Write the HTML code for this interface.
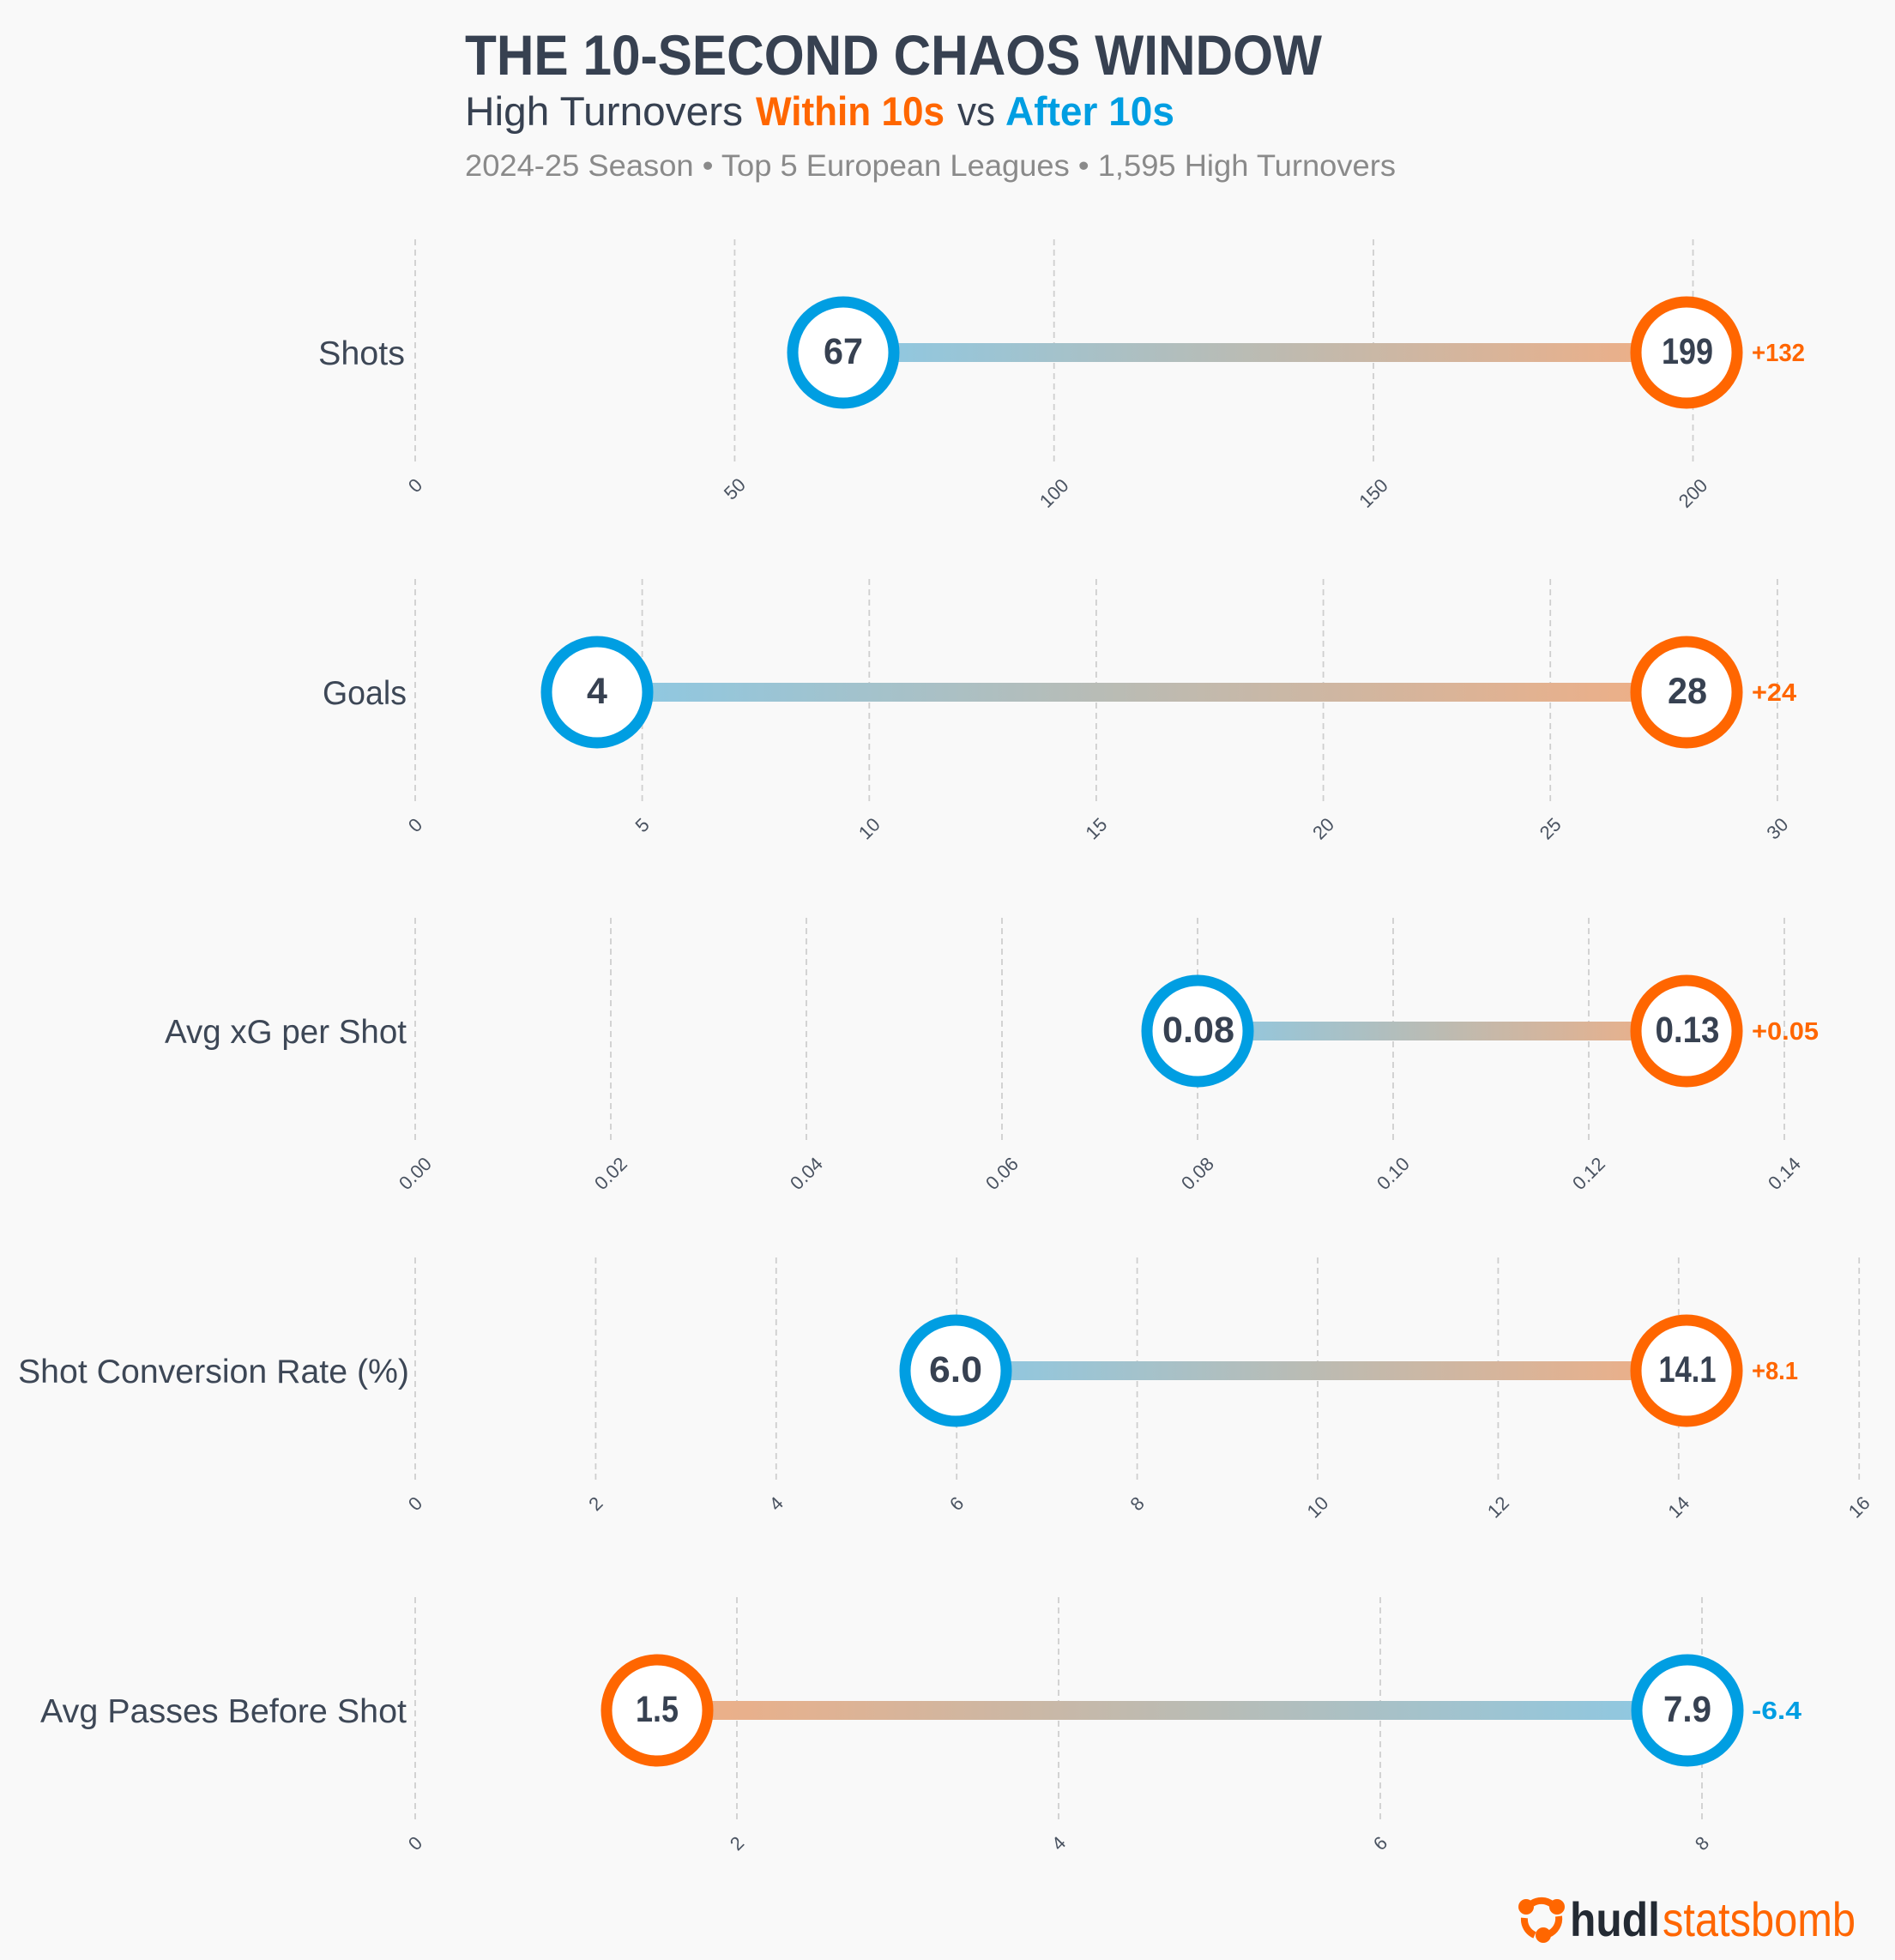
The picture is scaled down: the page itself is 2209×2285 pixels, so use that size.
<!DOCTYPE html>
<html>
<head>
<meta charset="utf-8">
<style>
  html,body{margin:0;padding:0;background:#f9f9f9;}
  svg{display:block;}
  text{font-family:"Liberation Sans", sans-serif;}
</style>
</head>
<body>
<svg width="2209" height="2285" viewBox="0 0 2209 2285" xmlns="http://www.w3.org/2000/svg">
  <defs>
    <linearGradient id="gBO" x1="0" y1="0" x2="1" y2="0">
      <stop offset="0" stop-color="#8bc9e5"/>
      <stop offset="0.5" stop-color="#bcbbb2"/>
      <stop offset="1" stop-color="#f1ae84"/>
    </linearGradient>
    <linearGradient id="gOB" x1="0" y1="0" x2="1" y2="0">
      <stop offset="0" stop-color="#f1ae84"/>
      <stop offset="0.5" stop-color="#bcbbb2"/>
      <stop offset="1" stop-color="#8bc9e5"/>
    </linearGradient>
  </defs>
  <rect x="0" y="0" width="2209" height="2285" fill="#f9f9f9"/>

  <!-- Titles -->
  <text x="542" y="87" font-size="66" font-weight="bold" fill="#374151" textLength="999" lengthAdjust="spacingAndGlyphs">THE 10-SECOND CHAOS WINDOW</text>
  <text x="542" y="146" font-size="47" fill="#374151" textLength="324" lengthAdjust="spacingAndGlyphs">High Turnovers</text>
  <text x="881" y="146" font-size="47" font-weight="bold" fill="#ff6600" textLength="220" lengthAdjust="spacingAndGlyphs">Within 10s</text>
  <text x="1116" y="146" font-size="47" fill="#374151" textLength="44" lengthAdjust="spacingAndGlyphs">vs</text>
  <text x="1172" y="146" font-size="47" font-weight="bold" fill="#009ee2" textLength="197" lengthAdjust="spacingAndGlyphs">After 10s</text>
  <text x="542" y="205" font-size="35" fill="#8a8a8a" textLength="1085" lengthAdjust="spacingAndGlyphs">2024-25 Season • Top 5 European Leagues • 1,595 High Turnovers</text>

  <!-- ============ Panel 1: Shots (cy=411) ============ -->
  <g stroke="#cfcfcf" stroke-width="1.8" stroke-dasharray="7,5">
    <line x1="484" y1="279" x2="484" y2="543"/>
    <line x1="856.4" y1="279" x2="856.4" y2="543"/>
    <line x1="1228.7" y1="279" x2="1228.7" y2="543"/>
    <line x1="1601" y1="279" x2="1601" y2="543"/>
    <line x1="1973.5" y1="279" x2="1973.5" y2="543"/>
  </g>
  <g font-size="22" fill="#4a5361" text-anchor="middle" dominant-baseline="central">
    <text transform="translate(484,566) rotate(-45)">0</text>
    <text transform="translate(856.4,570) rotate(-45)">50</text>
    <text transform="translate(1228.7,575) rotate(-45)">100</text>
    <text transform="translate(1601,575) rotate(-45)">150</text>
    <text transform="translate(1973.5,575) rotate(-45)">200</text>
  </g>
  <text x="371" y="425" font-size="39" fill="#3d4756" textLength="101" lengthAdjust="spacingAndGlyphs">Shots</text>
  <rect x="983" y="400" width="983" height="22" fill="url(#gBO)"/>
  <circle cx="983" cy="411" r="59" fill="#ffffff" stroke="#009ee2" stroke-width="13"/>
  <circle cx="1966" cy="411" r="59" fill="#ffffff" stroke="#ff6600" stroke-width="13"/>
  <text x="983" y="424" font-size="43" font-weight="bold" fill="#374151" text-anchor="middle" textLength="46" lengthAdjust="spacingAndGlyphs">67</text>
  <text x="1967" y="424" font-size="43" font-weight="bold" fill="#374151" text-anchor="middle" textLength="60" lengthAdjust="spacingAndGlyphs">199</text>
  <text x="2042" y="421" font-size="29" font-weight="bold" fill="#ff6600" textLength="62" lengthAdjust="spacingAndGlyphs">+132</text>

  <!-- ============ Panel 2: Goals (cy=807) ============ -->
  <g stroke="#cfcfcf" stroke-width="1.8" stroke-dasharray="7,5">
    <line x1="484" y1="675" x2="484" y2="939"/>
    <line x1="748.6" y1="675" x2="748.6" y2="939"/>
    <line x1="1013.3" y1="675" x2="1013.3" y2="939"/>
    <line x1="1277.9" y1="675" x2="1277.9" y2="939"/>
    <line x1="1542.6" y1="675" x2="1542.6" y2="939"/>
    <line x1="1807.2" y1="675" x2="1807.2" y2="939"/>
    <line x1="2071.9" y1="675" x2="2071.9" y2="939"/>
  </g>
  <g font-size="22" fill="#4a5361" text-anchor="middle" dominant-baseline="central">
    <text transform="translate(484,962) rotate(-45)">0</text>
    <text transform="translate(748.6,962) rotate(-45)">5</text>
    <text transform="translate(1013.3,966) rotate(-45)">10</text>
    <text transform="translate(1277.9,966) rotate(-45)">15</text>
    <text transform="translate(1542.6,966) rotate(-45)">20</text>
    <text transform="translate(1807.2,966) rotate(-45)">25</text>
    <text transform="translate(2071.9,966) rotate(-45)">30</text>
  </g>
  <text x="376" y="821" font-size="39" fill="#3d4756" textLength="98" lengthAdjust="spacingAndGlyphs">Goals</text>
  <rect x="696" y="796" width="1270" height="22" fill="url(#gBO)"/>
  <circle cx="696" cy="807" r="59" fill="#ffffff" stroke="#009ee2" stroke-width="13"/>
  <circle cx="1966" cy="807" r="59" fill="#ffffff" stroke="#ff6600" stroke-width="13"/>
  <text x="696" y="820" font-size="43" font-weight="bold" fill="#374151" text-anchor="middle">4</text>
  <text x="1967" y="820" font-size="43" font-weight="bold" fill="#374151" text-anchor="middle" textLength="46" lengthAdjust="spacingAndGlyphs">28</text>
  <text x="2042" y="817" font-size="29" font-weight="bold" fill="#ff6600" textLength="52" lengthAdjust="spacingAndGlyphs">+24</text>

  <!-- ============ Panel 3: Avg xG per Shot (cy=1202) ============ -->
  <g stroke="#cfcfcf" stroke-width="1.8" stroke-dasharray="7,5">
    <line x1="484" y1="1070" x2="484" y2="1334"/>
    <line x1="712" y1="1070" x2="712" y2="1334"/>
    <line x1="940" y1="1070" x2="940" y2="1334"/>
    <line x1="1168" y1="1070" x2="1168" y2="1334"/>
    <line x1="1396" y1="1070" x2="1396" y2="1334"/>
    <line x1="1624" y1="1070" x2="1624" y2="1334"/>
    <line x1="1852" y1="1070" x2="1852" y2="1334"/>
    <line x1="2080" y1="1070" x2="2080" y2="1334"/>
  </g>
  <g font-size="22" fill="#4a5361" text-anchor="middle" dominant-baseline="central">
    <text transform="translate(484,1368) rotate(-45)">0.00</text>
    <text transform="translate(712,1368) rotate(-45)">0.02</text>
    <text transform="translate(940,1368) rotate(-45)">0.04</text>
    <text transform="translate(1168,1368) rotate(-45)">0.06</text>
    <text transform="translate(1396,1368) rotate(-45)">0.08</text>
    <text transform="translate(1624,1368) rotate(-45)">0.10</text>
    <text transform="translate(1852,1368) rotate(-45)">0.12</text>
    <text transform="translate(2080,1368) rotate(-45)">0.14</text>
  </g>
  <text x="192" y="1216" font-size="39" fill="#3d4756" textLength="282" lengthAdjust="spacingAndGlyphs">Avg xG per Shot</text>
  <rect x="1396" y="1191" width="570" height="22" fill="url(#gBO)"/>
  <circle cx="1396" cy="1202" r="59" fill="#ffffff" stroke="#009ee2" stroke-width="13"/>
  <circle cx="1966" cy="1202" r="59" fill="#ffffff" stroke="#ff6600" stroke-width="13"/>
  <text x="1397" y="1215" font-size="43" font-weight="bold" fill="#374151" text-anchor="middle" textLength="84" lengthAdjust="spacingAndGlyphs">0.08</text>
  <text x="1967" y="1215" font-size="43" font-weight="bold" fill="#374151" text-anchor="middle" textLength="75" lengthAdjust="spacingAndGlyphs">0.13</text>
  <text x="2042" y="1212" font-size="29" font-weight="bold" fill="#ff6600" textLength="78" lengthAdjust="spacingAndGlyphs">+0.05</text>

  <!-- ============ Panel 4: Shot Conversion Rate (cy=1598) ============ -->
  <g stroke="#cfcfcf" stroke-width="1.8" stroke-dasharray="7,5">
    <line x1="484" y1="1466" x2="484" y2="1730"/>
    <line x1="694.4" y1="1466" x2="694.4" y2="1730"/>
    <line x1="904.8" y1="1466" x2="904.8" y2="1730"/>
    <line x1="1115.2" y1="1466" x2="1115.2" y2="1730"/>
    <line x1="1325.6" y1="1466" x2="1325.6" y2="1730"/>
    <line x1="1536" y1="1466" x2="1536" y2="1730"/>
    <line x1="1746.4" y1="1466" x2="1746.4" y2="1730"/>
    <line x1="1956.8" y1="1466" x2="1956.8" y2="1730"/>
    <line x1="2167.2" y1="1466" x2="2167.2" y2="1730"/>
  </g>
  <g font-size="22" fill="#4a5361" text-anchor="middle" dominant-baseline="central">
    <text transform="translate(484,1753) rotate(-45)">0</text>
    <text transform="translate(694.4,1753) rotate(-45)">2</text>
    <text transform="translate(904.8,1753) rotate(-45)">4</text>
    <text transform="translate(1115.2,1753) rotate(-45)">6</text>
    <text transform="translate(1325.6,1753) rotate(-45)">8</text>
    <text transform="translate(1536,1757) rotate(-45)">10</text>
    <text transform="translate(1746.4,1757) rotate(-45)">12</text>
    <text transform="translate(1956.8,1757) rotate(-45)">14</text>
    <text transform="translate(2167.2,1757) rotate(-45)">16</text>
  </g>
  <text x="21" y="1612" font-size="39" fill="#3d4756" textLength="456" lengthAdjust="spacingAndGlyphs">Shot Conversion Rate (%)</text>
  <rect x="1114" y="1587" width="852" height="22" fill="url(#gBO)"/>
  <circle cx="1114" cy="1598" r="59" fill="#ffffff" stroke="#009ee2" stroke-width="13"/>
  <circle cx="1966" cy="1598" r="59" fill="#ffffff" stroke="#ff6600" stroke-width="13"/>
  <text x="1114" y="1611" font-size="43" font-weight="bold" fill="#374151" text-anchor="middle" textLength="62" lengthAdjust="spacingAndGlyphs">6.0</text>
  <text x="1967" y="1611" font-size="43" font-weight="bold" fill="#374151" text-anchor="middle" textLength="67" lengthAdjust="spacingAndGlyphs">14.1</text>
  <text x="2042" y="1608" font-size="29" font-weight="bold" fill="#ff6600" textLength="54" lengthAdjust="spacingAndGlyphs">+8.1</text>

  <!-- ============ Panel 5: Avg Passes Before Shot (cy=1994) ============ -->
  <g stroke="#cfcfcf" stroke-width="1.8" stroke-dasharray="7,5">
    <line x1="484" y1="1862" x2="484" y2="2126"/>
    <line x1="859" y1="1862" x2="859" y2="2126"/>
    <line x1="1234" y1="1862" x2="1234" y2="2126"/>
    <line x1="1609" y1="1862" x2="1609" y2="2126"/>
    <line x1="1984" y1="1862" x2="1984" y2="2126"/>
  </g>
  <g font-size="22" fill="#4a5361" text-anchor="middle" dominant-baseline="central">
    <text transform="translate(484,2149) rotate(-45)">0</text>
    <text transform="translate(859,2149) rotate(-45)">2</text>
    <text transform="translate(1234,2149) rotate(-45)">4</text>
    <text transform="translate(1609,2149) rotate(-45)">6</text>
    <text transform="translate(1984,2149) rotate(-45)">8</text>
  </g>
  <text x="47" y="2008" font-size="39" fill="#3d4756" textLength="427" lengthAdjust="spacingAndGlyphs">Avg Passes Before Shot</text>
  <rect x="766" y="1983" width="1201" height="22" fill="url(#gOB)"/>
  <circle cx="766" cy="1994" r="59" fill="#ffffff" stroke="#ff6600" stroke-width="13"/>
  <circle cx="1967" cy="1994" r="59" fill="#ffffff" stroke="#009ee2" stroke-width="13"/>
  <text x="766" y="2007" font-size="43" font-weight="bold" fill="#374151" text-anchor="middle" textLength="50" lengthAdjust="spacingAndGlyphs">1.5</text>
  <text x="1967" y="2007" font-size="43" font-weight="bold" fill="#374151" text-anchor="middle" textLength="56" lengthAdjust="spacingAndGlyphs">7.9</text>
  <text x="2042" y="2004" font-size="29" font-weight="bold" fill="#009ee2" textLength="58" lengthAdjust="spacingAndGlyphs">-6.4</text>

  <!-- ============ Logo ============ -->
  <g fill="none" stroke="#ff6600" stroke-width="8">
    <path d="M1786 2219 A20 20 0 0 1 1809 2220"/>
    <path d="M1817 2234 A20 20 0 0 1 1805 2255"/>
    <path d="M1789 2256 A20 20 0 0 1 1777 2236"/>
  </g>
  <g fill="#ff6600">
    <circle cx="1815" cy="2223" r="9"/>
    <circle cx="1779" cy="2223" r="9"/>
    <circle cx="1799" cy="2256" r="9"/>
  </g>
  <text x="1830" y="2257" font-size="56" font-weight="bold" fill="#232a33" textLength="105" lengthAdjust="spacingAndGlyphs">hudl</text>
  <text x="1938" y="2257" font-size="56" fill="#ff6600" textLength="225" lengthAdjust="spacingAndGlyphs">statsbomb</text>
</svg>
</body>
</html>
